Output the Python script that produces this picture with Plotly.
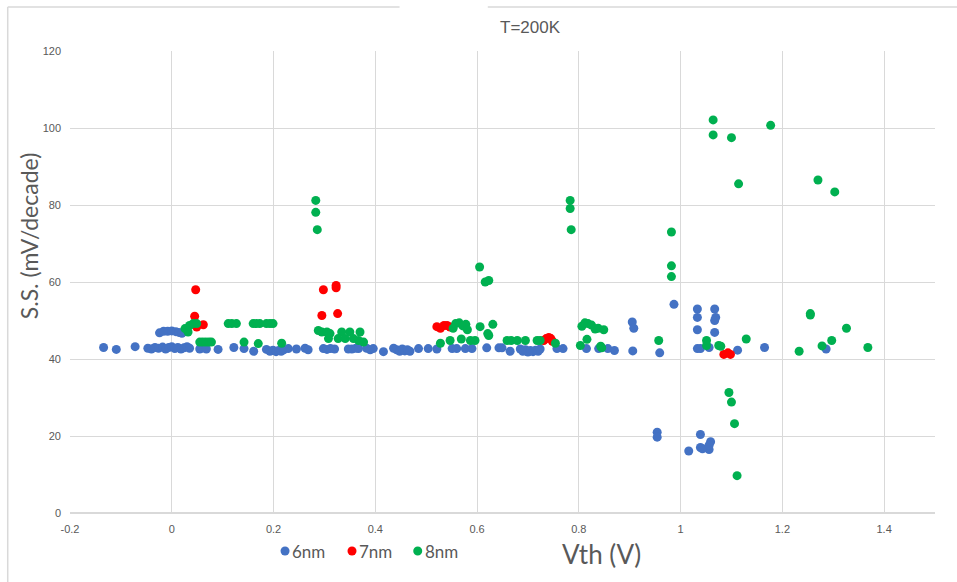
import plotly.graph_objects as go

# Threshold voltage (V) and subthreshold swing (mV/decade) per device, by fin width
vth_6nm = [-0.134, -0.109, -0.072, -0.047, -0.040, -0.033, -0.026, -0.018, -0.012, -0.006,
           0.000, 0.006, 0.012, 0.018, 0.024, 0.030, 0.035,
           -0.024, -0.016, -0.008, 0.000, 0.008, 0.014, 0.020,
           0.055, 0.060, 0.068, 0.091, 0.122, 0.142, 0.161, 0.186, 0.193, 0.199,
           0.205, 0.210, 0.215, 0.220, 0.229, 0.245, 0.262, 0.268, 0.298, 0.305,
           0.312, 0.320, 0.347, 0.354, 0.362, 0.367, 0.383, 0.390, 0.396, 0.416,
           0.436, 0.442, 0.448, 0.453, 0.458, 0.463, 0.468, 0.485, 0.504, 0.521,
           0.551, 0.560, 0.577, 0.590, 0.619, 0.643, 0.649, 0.665, 0.685, 0.690,
           0.695, 0.700, 0.705, 0.710, 0.715, 0.720, 0.724, 0.757, 0.769, 0.815,
           0.839, 0.857, 0.870, 0.905, 0.908, 0.906, 0.959, 0.987, 0.954, 0.954,
           1.033, 1.033, 1.033, 1.067, 1.069, 1.067, 1.067, 1.033, 1.039, 1.056,
           1.112, 1.165, 1.286, 1.039, 1.016, 1.039, 1.043, 1.056, 1.059, 1.056]
ss_6nm = [43.0, 42.5, 43.2, 42.8, 42.6, 43.0, 42.8, 43.1, 42.6, 43.0,
          43.2, 42.7, 43.0, 42.6, 42.9, 43.2, 42.8,
          46.8, 47.2, 47.2, 47.3, 47.1, 46.9, 46.7,
          42.6, 42.9, 42.6, 42.5, 43.0, 42.7, 42.0, 42.5, 42.0, 42.3,
          41.9, 42.2, 42.0, 42.4, 42.7, 42.6, 42.8, 42.4, 42.7, 42.5,
          42.7, 42.6, 42.6, 42.6, 42.8, 42.7, 42.8, 42.4, 42.7, 41.9,
          42.8, 42.4, 42.0, 42.6, 42.1, 42.4, 42.0, 42.7, 42.7, 42.6,
          42.7, 42.7, 42.7, 42.7, 42.9, 42.9, 42.9, 42.0, 42.6, 42.0,
          42.4, 41.8, 42.2, 41.9, 42.3, 42.0, 42.6, 42.7, 42.7, 42.7,
          42.7, 42.7, 42.2, 49.6, 48.0, 42.1, 41.6, 54.2, 21.0, 19.7,
          53.0, 50.8, 47.6, 53.0, 50.8, 50.0, 46.9, 42.7, 42.7, 43.0,
          42.3, 43.0, 42.6, 20.4, 16.1, 17.0, 16.7, 16.5, 18.5, 17.6]

vth_7nm = [0.047, 0.045, 0.049, 0.062, 0.298, 0.323, 0.323, 0.295, 0.326,
           0.521, 0.528, 0.535, 0.541, 0.547, 0.731, 0.736, 0.741, 0.745, 0.748,
           1.085, 1.093, 1.098]
ss_7nm = [58.0, 51.1, 48.3, 48.9, 58.0, 59.1, 58.5, 51.3, 51.8,
          48.4, 48.0, 48.7, 48.7, 48.3, 44.8, 45.3, 45.6, 45.3, 44.6,
          41.2, 41.6, 41.2]

vth_8nm = [0.026, 0.032, 0.035, 0.042, 0.049, 0.055, 0.061, 0.067, 0.073, 0.078,
           0.111, 0.118, 0.127, 0.142, 0.160, 0.166, 0.173, 0.170, 0.186, 0.193,
           0.199, 0.216,
           0.283, 0.283, 0.286, 0.288, 0.295, 0.305, 0.311, 0.308, 0.334, 0.350,
           0.370, 0.327, 0.341, 0.357, 0.367, 0.377,
           0.528, 0.547, 0.569, 0.553, 0.558, 0.565, 0.572, 0.578, 0.581, 0.587,
           0.596, 0.605, 0.616, 0.623, 0.606, 0.621, 0.623, 0.631, 0.659, 0.667,
           0.679, 0.695, 0.718, 0.724, 0.754, 0.783, 0.783, 0.785, 0.803, 0.816,
           0.806, 0.812, 0.818, 0.825, 0.832, 0.838, 0.849, 0.843, 0.845,
           0.957, 0.982, 0.982, 0.982, 1.064, 1.064, 1.100, 1.177, 1.114, 1.270,
           1.303, 1.051, 1.051, 1.075, 1.079, 1.129, 1.255, 1.255, 1.326, 1.297,
           1.278, 1.233, 1.368, 1.095, 1.100, 1.106, 1.111]
ss_8nm = [47.9, 47.0, 48.7, 49.2, 49.2, 44.4, 44.4, 44.4, 44.4, 44.4,
          49.2, 49.2, 49.2, 44.4, 49.2, 49.2, 49.2, 44.0, 49.2, 49.2,
          49.2, 44.1,
          81.2, 78.1, 73.6, 47.4, 47.0, 47.0, 46.6, 45.3, 47.0, 47.0,
          47.0, 45.3, 45.3, 45.3, 44.8, 44.4,
          44.1, 44.8, 45.2, 48.0, 49.2, 49.4, 48.6, 49.0, 47.6, 44.8,
          44.8, 63.9, 60.0, 60.4, 48.4, 46.6, 46.1, 49.0, 44.8, 44.8,
          44.8, 44.8, 44.8, 44.8, 44.1, 81.2, 79.1, 73.6, 43.5, 45.1,
          48.5, 49.4, 49.2, 48.8, 47.8, 48.0, 47.6, 43.3, 42.9,
          44.8, 73.0, 64.2, 61.4, 102.1, 98.2, 97.5, 100.7, 85.5, 86.5,
          83.4, 44.8, 43.5, 43.5, 43.3, 45.2, 51.8, 51.4, 48.0, 44.8,
          43.4, 42.0, 43.0, 31.3, 28.8, 23.2, 9.7]

series = [
    ("6nm", vth_6nm, ss_6nm, "#4472C4"),
    ("7nm", vth_7nm, ss_7nm, "#FF0000"),
    ("8nm", vth_8nm, ss_8nm, "#00B050"),
]

x_ticks = [-0.2, 0, 0.2, 0.4, 0.6, 0.8, 1, 1.2, 1.4]
x_tick_text = ["-0.2", "0", "0.2", "0.4", "0.6", "0.8", "1", "1.2", "1.4"]
y_ticks = [0, 20, 40, 60, 80, 100, 120]

GRID = "#d9d9d9"
TEXT = "#595959"
NARROW = "Liberation Sans Narrow, Liberation Sans, sans-serif"
TICK_FONT = dict(family=NARROW, size=11, color=TEXT)
LABEL_FONT = "Lato, Open Sans, sans-serif"

fig = go.Figure()
for name, xs, ys, color in series:
    fig.add_trace(go.Scatter(
        x=xs, y=ys, mode="markers", name=name, showlegend=False,
        marker=dict(size=9, color=color, line=dict(width=0)),
    ))

# Compact legend row under the plot: a dot followed closely by its label
legend_x = [0.2486, 0.326, 0.402]
legend_y = -0.0823
shapes = []
annotations = []
for (name, _, _, color), lx in zip(series, legend_x):
    shapes.append(dict(type="circle", xref="paper", yref="paper",
                       xsizemode="pixel", ysizemode="pixel",
                       xanchor=lx, yanchor=legend_y, x0=-4.5, x1=4.5, y0=-4.5, y1=4.5,
                       fillcolor=color, line=dict(width=0)))
    annotations.append(dict(text=name, xref="paper", yref="paper", x=lx, y=legend_y,
                            xanchor="left", yanchor="middle", xshift=5, showarrow=False,
                            font=dict(family=LABEL_FONT, size=17, color=TEXT)))

# Chart frame edges
shapes += [
    dict(type="line", xref="paper", yref="paper", x0=-0.072, x1=-0.072, y0=-0.15, y1=1.095,
         line=dict(color=GRID, width=1.5)),
    dict(type="line", xref="paper", yref="paper", x0=-0.072, x1=0.381, y0=1.095, y1=1.095,
         line=dict(color=GRID, width=1.5)),
    dict(type="line", xref="paper", yref="paper", x0=0.483, x1=1.03, y0=1.095, y1=1.095,
         line=dict(color=GRID, width=1.5)),
]

annotations += [
    dict(text="T=200K", xref="paper", yref="paper", x=0.532, y=1.05,
         xanchor="center", yanchor="middle", showarrow=False,
         font=dict(family=NARROW, size=17, color=TEXT)),
    dict(text="Vth (V)", xref="paper", yref="paper", x=0.615, y=-0.088,
         xanchor="center", yanchor="middle", showarrow=False,
         font=dict(family=LABEL_FONT, size=26, color=TEXT)),
    dict(text="S.S. (mV/decade)", xref="paper", yref="paper", x=-0.048, y=0.6,
         xanchor="center", yanchor="middle", showarrow=False, textangle=-90,
         font=dict(family=LABEL_FONT, size=23, color=TEXT)),
]

fig.update_layout(
    width=957, height=582,
    margin=dict(l=70, r=22, t=51, b=69),
    paper_bgcolor="white", plot_bgcolor="white",
    showlegend=False,
    xaxis=dict(
        range=[-0.2, 1.5], tickvals=x_ticks, ticktext=x_tick_text,
        showgrid=True, gridcolor=GRID, gridwidth=1,
        zeroline=False, showline=False, ticks="", tickfont=TICK_FONT,
        ticklabelstandoff=8,
    ),
    yaxis=dict(
        range=[0, 120], tickvals=y_ticks,
        showgrid=True, gridcolor=GRID, gridwidth=1,
        zeroline=True, zerolinecolor=GRID, zerolinewidth=2, showline=False, ticks="",
        tickfont=TICK_FONT, ticklabelstandoff=8,
    ),
    annotations=annotations,
    shapes=shapes,
)

fig.write_html("out.html")
